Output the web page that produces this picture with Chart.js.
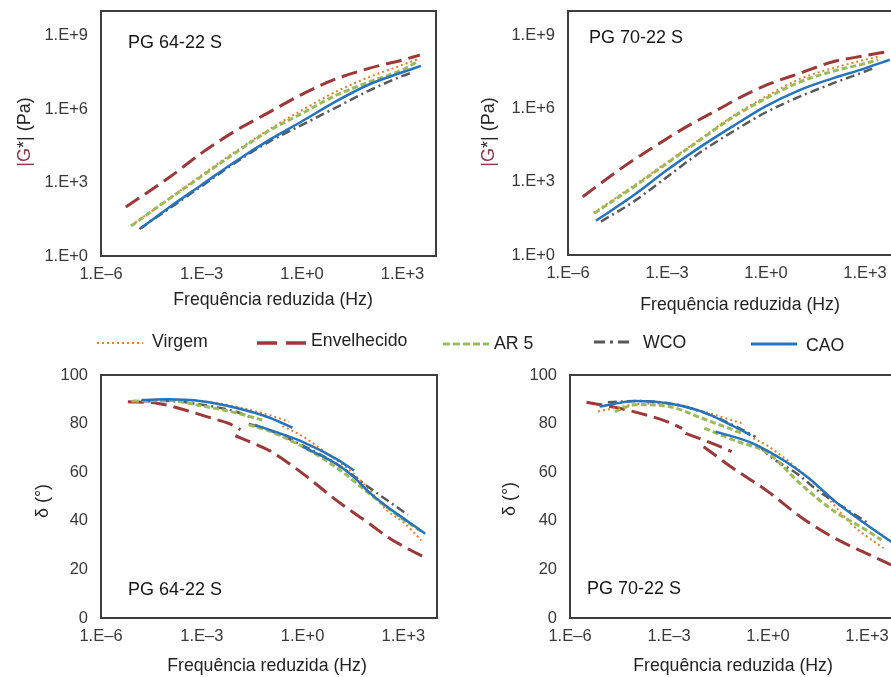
<!DOCTYPE html>
<html lang="pt">
<head>
<meta charset="utf-8">
<title>|G*| e δ – PG 64-22 S e PG 70-22 S</title>
<script src="https://cdn.jsdelivr.net/npm/chart.js@4.4.1/dist/chart.umd.min.js"></script>
<style>
  html, body { margin:0; padding:0; background:#fff; overflow:hidden; }
  body { width:891px; height:677px; position:relative; font-family:"Liberation Sans", Arial, sans-serif; }
  canvas { position:absolute; display:block; }
  .legtxt { position:absolute; font-size:17.7px; color:#222; white-space:nowrap; line-height:20px; }
  .legsvg { position:absolute; }
</style>
</head>
<body>
<canvas id="cG64" width="445" height="318" style="left:0;top:0"></canvas>
<canvas id="cG70" width="460" height="318" style="left:445px;top:0"></canvas>
<canvas id="cD64" width="445" height="359" style="left:0;top:318px"></canvas>
<canvas id="cD70" width="460" height="359" style="left:445px;top:318px"></canvas>
<div id="legend"></div>
<script>
// ---------------- DATA ----------------
const seriesNames = ['Virgem', 'Envelhecido', 'AR 5', 'WCO', 'CAO'];
const xAxisTitle = 'Frequência reduzida (Hz)';

const xTickValues = [1e-6, 1e-3, 1, 1e3];
const xTickLabels = ['1.E\u20136', '1.E\u20133', '1.E+0', '1.E+3'];
const gTickValues = [1, 1e3, 1e6, 1e9];
const gTickLabels = ['1.E+0', '1.E+3', '1.E+6', '1.E+9'];
const dTickValues = [0, 20, 40, 60, 80, 100];
const dTickLabels = ['0', '20', '40', '60', '80', '100'];

// |G*| (Pa) vs reduced frequency (Hz) — PG 64-22 S
const G64_virgem_f = [7.9e-6, 1e-4, 1e-3, 1e-2, 0.1, 1, 10, 100, 1000, 2800];
const G64_virgem_v = [17.8, 200, 2000, 1.78e4, 1.41e5, 8.9e5, 5.0e6, 2.0e7, 6.3e7, 1.07e8];
const G64_envelh_f = [5.5e-6, 1e-4, 1e-3, 1e-2, 0.1, 1, 10, 100, 1000, 3300];
const G64_envelh_v = [100, 1480, 1.58e4, 1.26e5, 7.08e5, 3.98e6, 1.66e7, 4.57e7, 1.0e8, 1.58e8];
const G64_ar5_f = [7.9e-6, 1e-4, 1e-3, 1e-2, 0.1, 1, 10, 100, 1000, 2500];
const G64_ar5_v = [16.6, 200, 1780, 1.58e4, 1.26e5, 6.6e5, 3.55e6, 1.26e7, 3.98e7, 7.76e7];
const G64_wco_f = [1.4e-5, 1e-4, 1e-3, 1e-2, 0.1, 1, 10, 100, 1000, 2000];
const G64_wco_v = [12.6, 79.4, 708, 6310, 4.47e4, 2.24e5, 1.12e6, 5.62e6, 2.24e7, 3.16e7];
const G64_cao_f = [1.55e-5, 1e-4, 1e-3, 1e-2, 0.1, 1, 10, 100, 1000, 3550];
const G64_cao_v = [13.5, 89, 794, 7080, 5.25e4, 3.16e5, 2.0e6, 1.0e7, 3.16e7, 5.75e7];

// |G*| (Pa) — PG 70-22 S
const G70_virgem_f = [6.0e-6, 1e-4, 1e-3, 1e-2, 0.1, 1, 10, 100, 1000, 2500];
const G70_virgem_v = [53.7, 708, 6310, 5.62e4, 5.01e5, 3.16e6, 1.58e7, 4.47e7, 1.0e8, 1.35e8];
const G70_envelh_f = [2.8e-6, 4.1e-5, 4.1e-4, 3.2e-3, 0.033, 0.166, 1.05, 10.7, 107, 1000, 4470];
const G70_envelh_v = [245, 3550, 2.75e4, 1.55e5, 8.7e5, 2.88e6, 9.3e6, 2.82e7, 8.3e7, 1.48e8, 2.14e8];
const G70_ar5_f = [6.3e-6, 1e-4, 1e-3, 1e-2, 0.1, 1, 10, 100, 1000, 2500];
const G70_ar5_v = [51.3, 631, 5750, 5.13e4, 4.47e5, 2.63e6, 1.2e7, 3.31e7, 7.08e7, 1.0e8];
const G70_wco_f = [1e-5, 1e-4, 1e-3, 1e-2, 0.1, 1, 10, 100, 1000, 2000];
const G70_wco_v = [23.4, 158, 1580, 1.58e4, 1.15e5, 7.08e5, 3.02e6, 1.05e7, 3.31e7, 4.79e7];
const G70_cao_f = [7.1e-6, 1e-4, 1e-3, 1e-2, 0.1, 1, 10, 100, 1000, 5600];
const G70_cao_v = [25.7, 288, 3020, 2.63e4, 1.91e5, 1.26e6, 5.62e6, 1.7e7, 4.47e7, 1.0e8];

// δ (°) — PG 64-22 S  (null separates master-curve segments)
const D64_virgem_f = [7.9e-6, 1e-4, 1e-3, 1e-2, 0.1, 0.4, null, 0.25, 1, 3.16, 10, 31.6, 100, 316, 1000, 3390];
const D64_virgem_v = [89, 89.8, 89.2, 87, 83.5, 80.8, null, 79, 74.8, 70, 65, 59.5, 52.5, 44.4, 39.4, 32];
const D64_envelh_f = [6.3e-6, 5.0e-5, 3.16e-4, 2.0e-3, 6.3e-3, 0.0141, null, 0.01, 0.04, 0.1, 0.316, 1, 3.16, 10, 31.6, 100, 316, 1000, 3980];
const D64_envelh_v = [89, 88.3, 85.6, 82.2, 80.1, 77.5, null, 75, 71.5, 69, 64.5, 59.5, 54, 48.5, 43.5, 38.7, 33.6, 29.5, 25.2];
const D64_ar5_f = [8.9e-6, 1e-4, 1e-3, 1e-2, 0.063, null, 0.025, 0.1, 1, 10, 100, 1000, 3550];
const D64_ar5_v = [89.3, 89.5, 87.3, 84.5, 81.5, null, 79.5, 77, 70.5, 62, 51, 40.5, 35.5];
const D64_wco_f = [1.6e-5, 1e-4, 1e-3, 1e-2, 0.0316, null, 0.025, 0.1, 1, 10, 100, 1350];
const D64_wco_v = [89.2, 89.3, 87.8, 85, 82.3, null, 80, 77.3, 71, 63.5, 53.5, 42.5];
const D64_cao_f = [1.6e-5, 1e-4, 1e-3, 1e-2, 0.1, 0.5, null, 0.039, 0.1, 1, 10, 34, null, 1, 10, 31.6, 100, 316, 1000, 4470];
const D64_cao_v = [89.7, 90, 89.2, 86.5, 82.5, 78.3, null, 79.4, 77.5, 72.5, 65.5, 60.7, null, 70.5, 63.5, 58.3, 51.5, 46, 41, 34.7];

// δ (°) — PG 70-22 S
const D70_virgem_f = [7.1e-6, 3.16e-5, 1e-4, 1e-3, 1e-2, 0.052, 0.166, null, 0.355, 1, 6.3, 31.6, 100, 316, 1000, 3160];
const D70_virgem_v = [85, 86.8, 88, 88.3, 85.2, 82.2, 80.1, null, 74, 70.7, 62.5, 54, 46.5, 39, 33.5, 28.8];
const D70_envelh_f = [3.16e-6, 3.16e-5, 3.16e-4, 1e-3, 2.5e-3, null, 3.16e-3, 0.01, 0.0316, 0.079, null, 0.0112, 0.063, 1, 10, 100, 1000, 5370];
const D70_envelh_v = [88.8, 86.3, 82.8, 80.5, 78, null, 76, 73.5, 70.8, 68.5, null, 70.5, 63, 52, 41.5, 33, 26.5, 21.9];
const D70_ar5_f = [2.3e-5, 1e-4, 1e-3, 1e-2, 0.166, null, 0.0117, 0.1, 1, 10, 100, 1000, 2750];
const D70_ar5_v = [85, 87.8, 87, 82.2, 76, null, 78.1, 73, 67.8, 55, 44, 36, 32.1];
const D70_wco_f = [1.4e-5, 1e-4, 1e-3, 1e-2, 0.1, 0.42, null, 0.63, 1.05, 8.5, 34, 214, 1150];
const D70_wco_v = [88.8, 89.3, 88.3, 84.8, 79, 74.5, null, 70, 67, 58.9, 52.2, 45.2, 38.8];
const D70_cao_f = [7.9e-6, 1e-4, 1e-3, 1e-2, 0.1, 0.295, null, 0.026, 0.33, 3.4, 17, 107, 692, 5620];
const D70_cao_v = [87, 89.3, 88.3, 84.9, 78.6, 75.3, null, 76.7, 72, 64.4, 57.6, 48, 39.8, 31.2];

// ---------------- STYLES ----------------
const STYLE = {
  'Virgem':      { color:'#ED7D31', width:2,   dash:[2, 3],        order:3 },
  'Envelhecido': { color:'#9C3837', width:3,   dash:[16, 7],       order:4 },
  'AR 5':        { color:'#9BBB59', width:3,   dash:[6, 3],        order:1 },
  'WCO':         { color:'#595959', width:2.5, dash:[9, 4, 2, 4],  order:2 },
  'CAO':         { color:'#2473BE', width:2.5, dash:[],            order:0 }
};
const FONT = '"Liberation Sans", Arial, sans-serif';
Chart.defaults.font.family = FONT;

function toSegments(f, v) {
  const segs = []; let seg = [];
  f.forEach((x, i) => {
    if (x === null || v[i] === null) { if (seg.length) segs.push(seg); seg = []; }
    else seg.push({ x: x, y: v[i] });
  });
  if (seg.length) segs.push(seg);
  return segs;
}
function buildDatasets(series) {
  const ds = [];
  series.forEach((s, si) => {
    const name = seriesNames[si], st = STYLE[name];
    toSegments(s[0], s[1]).forEach((pts, k) => ds.push({
      label: k === 0 ? name : name + ' (' + (k + 1) + ')',
      data: pts,
      borderColor: st.color, backgroundColor: st.color,
      borderWidth: st.width, borderDash: st.dash, borderCapStyle: 'butt',
      pointRadius: 0, pointHoverRadius: 0, fill: false,
      cubicInterpolationMode: 'monotone', order: st.order
    }));
  });
  return ds;
}

const panelDecor = {
  id: 'panelDecor',
  afterDatasetsDraw(chart, args, o) {
    const { ctx, chartArea: a } = chart;
    ctx.save();
    ctx.strokeStyle = '#3d3d3d'; ctx.lineWidth = 2;
    ctx.strokeRect(a.left, a.top, a.right - a.left, a.bottom - a.top);
    ctx.fillStyle = '#151515';
    ctx.font = '18px ' + FONT;
    ctx.textAlign = 'left'; ctx.textBaseline = 'middle';
    ctx.fillText(o.label, o.labelX, o.labelY);
    // x-axis title
    ctx.fillStyle = '#222';
    ctx.font = '17.7px ' + FONT;
    ctx.textAlign = 'center';
    ctx.fillText(xAxisTitle, o.xTitleX, o.xTitleY);
    // rotated y title, possibly multi-coloured
    ctx.textAlign = 'left';
    ctx.font = '18px ' + FONT;
    ctx.translate(o.titleX, o.titleY);
    ctx.rotate(-Math.PI / 2);
    const total = o.title.reduce((w, p) => w + ctx.measureText(p[0]).width, 0);
    let x = -total / 2;
    o.title.forEach(p => { ctx.fillStyle = p[1]; ctx.fillText(p[0], x, 0); x += ctx.measureText(p[0]).width; });
    ctx.restore();
  }
};

function makeChart(id, p) {
  const isG = p.kind === 'G';
  const yFit = s => { s.width = p.yW; s.paddingTop = 0; s.paddingBottom = 0; };
  return new Chart(document.getElementById(id), {
    type: 'line',
    data: { datasets: buildDatasets(p.series) },
    options: {
      responsive: false, animation: false, devicePixelRatio: 1,
      layout: { padding: { top: p.padTop, right: p.padRight, left: 0, bottom: 0 } },
      plugins: {
        legend: { display: false }, tooltip: { enabled: false },
        panelDecor: { label: p.label, labelX: p.labelX, labelY: p.labelY, title: p.title,
                      titleX: p.titleX, titleY: p.titleY, xTitleX: p.xTitleX, xTitleY: p.xTitleY }
      },
      scales: {
        x: {
          type: 'logarithmic', min: 1e-6, max: 1e4,
          afterBuildTicks: s => { s.ticks = xTickValues.map(v => ({ value: v })); },
          afterFit: s => { s.height = p.xH; s.paddingLeft = 0; s.paddingRight = 0; },
          ticks: { callback: (v, i) => xTickLabels[i], autoSkip: false, maxRotation: 0, minRotation: 0,
                   padding: 9, color: '#383838', font: { size: 16.5 } },
          grid: { display: false, drawTicks: false }, border: { display: false },
          title: { display: false }
        },
        y: isG ? {
          type: 'logarithmic', min: 1, max: 1e10,
          afterBuildTicks: s => { s.ticks = gTickValues.map(v => ({ value: v })); },
          afterFit: yFit,
          ticks: { callback: (v, i) => gTickLabels[i], autoSkip: false, padding: 13, color: '#383838', font: { size: 16.5 } },
          grid: { display: false, drawTicks: false }, border: { display: false }
        } : {
          type: 'linear', min: 0, max: 100,
          afterBuildTicks: s => { s.ticks = dTickValues.map(v => ({ value: v })); },
          afterFit: yFit,
          ticks: { callback: (v, i) => dTickLabels[i], autoSkip: false, padding: 13, color: '#383838', font: { size: 16.5 } },
          grid: { display: false, drawTicks: false }, border: { display: false }
        }
      }
    },
    plugins: [panelDecor]
  });
}

const titleG = [['|G', '#8B3A4A'], ['*| (Pa)', '#262626']];
const titleD = [['δ (°)', '#262626']];

makeChart('cG64', { kind:'G', label:'PG 64-22 S', labelX:128, labelY:43, title:titleG, titleX:25, titleY:132,
  xTitleX:273, xTitleY:300, padTop:11, padRight:9, yW:101, xH:62,
  series:[[G64_virgem_f, G64_virgem_v],[G64_envelh_f, G64_envelh_v],[G64_ar5_f, G64_ar5_v],[G64_wco_f, G64_wco_v],[G64_cao_f, G64_cao_v]] });
makeChart('cG70', { kind:'G', label:'PG 70-22 S', labelX:144, labelY:38, title:titleG, titleX:44, titleY:132,
  xTitleX:295, xTitleY:305.5, padTop:11, padRight:7, yW:123, xH:63,
  series:[[G70_virgem_f, G70_virgem_v],[G70_envelh_f, G70_envelh_v],[G70_ar5_f, G70_ar5_v],[G70_wco_f, G70_wco_v],[G70_cao_f, G70_cao_v]] });
makeChart('cD64', { kind:'D', label:'PG 64-22 S', labelX:128, labelY:272, title:titleD, titleX:43, titleY:183,
  xTitleX:267, xTitleY:348.5, padTop:57, padRight:8, yW:101, xH:59,
  series:[[D64_virgem_f, D64_virgem_v],[D64_envelh_f, D64_envelh_v],[D64_ar5_f, D64_ar5_v],[D64_wco_f, D64_wco_v],[D64_cao_f, D64_cao_v]] });
makeChart('cD70', { kind:'D', label:'PG 70-22 S', labelX:142, labelY:271, title:titleD, titleX:65, titleY:181,
  xTitleX:288, xTitleY:348.5, padTop:57, padRight:5, yW:125, xH:59,
  series:[[D70_virgem_f, D70_virgem_v],[D70_envelh_f, D70_envelh_v],[D70_ar5_f, D70_ar5_v],[D70_wco_f, D70_wco_v],[D70_cao_f, D70_cao_v]] });

// ---------------- LEGEND (HTML) ----------------
const legendLayout = [
  { x:97,  w:46, tx:152, ty:331, ly:343, lw:2,   dash:'2 3' },
  { x:257, w:52, tx:311, ty:330, ly:343, lw:3.5, dash:'20 9' },
  { x:443, w:46, tx:494, ty:333, ly:344, lw:3,   dash:'7 3' },
  { x:594, w:40, tx:643, ty:332, ly:342, lw:3,   dash:'11 5 3 5' },
  { x:751, w:46, tx:806, ty:335, ly:344, lw:3,   dash:'' }
];
const leg = document.getElementById('legend');
seriesNames.forEach((name, i) => {
  const L = legendLayout[i], st = STYLE[name];
  const svgNS = 'http://www.w3.org/2000/svg';
  const svg = document.createElementNS(svgNS, 'svg');
  svg.setAttribute('width', L.w); svg.setAttribute('height', 8);
  svg.setAttribute('class', 'legsvg');
  svg.style.left = L.x + 'px'; svg.style.top = (L.ly - 4) + 'px';
  const ln = document.createElementNS(svgNS, 'line');
  ln.setAttribute('x1', 0); ln.setAttribute('y1', 4); ln.setAttribute('x2', L.w); ln.setAttribute('y2', 4);
  ln.setAttribute('stroke', st.color); ln.setAttribute('stroke-width', L.lw);
  if (L.dash) ln.setAttribute('stroke-dasharray', L.dash);
  svg.appendChild(ln); leg.appendChild(svg);
  const t = document.createElement('div');
  t.className = 'legtxt'; t.textContent = name;
  t.style.left = L.tx + 'px'; t.style.top = L.ty + 'px';
  leg.appendChild(t);
});
</script>
</body>
</html>
